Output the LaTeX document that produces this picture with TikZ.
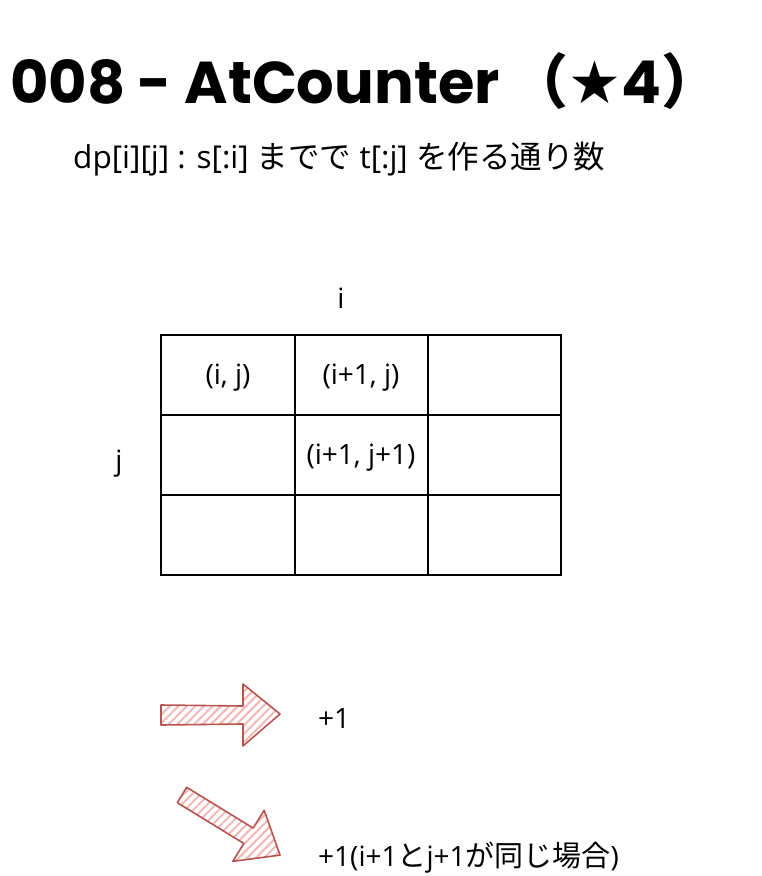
\documentclass[tikz,border=0pt]{standalone}
\usepackage{fontspec}
\setmainfont{Open Sans}
\newfontfamily\titlefont{Poppins}
\newfontfamily\jpfont{Noto Sans CJK JP}
\newfontfamily\symfont{DejaVu Sans}
\usetikzlibrary{patterns.meta}
\definecolor{arrowline}{HTML}{B85450}
\definecolor{arrowfill}{HTML}{F2B8B6}
\tikzset{
  lbl/.style={inner sep=0pt, font=\fontsize{28}{32}\selectfont},
  gridline/.style={line width=1.3pt, black},
  fatarrow/.style={draw=arrowline, line width=1.6pt, line join=round,
    pattern={Lines[angle=45,distance=6pt,line width=2pt]}, pattern color=arrowfill}
}
\begin{document}
\begin{tikzpicture}[x=1pt,y=-1pt]
\useasboundingbox (0,0) rectangle (762,876);
% title
\node[anchor=base west, inner sep=0pt, font=\titlefont\bfseries\fontsize{59}{64}\selectfont] (title) at (10,103)
  {008 - AtCounter\hspace{10pt}{\jpfont（}{\symfont ★}4{\jpfont ）}};
\node[anchor=base west, inner sep=0pt, font=\fontsize{31.5}{36}\selectfont] (sub) at (73,168)
  {dp[i][j] : s[:i] {\jpfont までで} t[:j] {\jpfont を作る通り数}};
% grid
\coordinate (g00) at (161,335);
\coordinate (g33) at (561,575);
\draw[gridline] (g00) rectangle (g33);
\draw[gridline] (295,335) coordinate (c1t) -- (295,575) coordinate (c1b);
\draw[gridline] (428,335) coordinate (c2t) -- (428,575) coordinate (c2b);
\draw[gridline] (161,415) coordinate (r1l) -- (561,415) coordinate (r1r);
\draw[gridline] (161,495) coordinate (r2l) -- (561,495) coordinate (r2r);
\node[lbl] (cij) at (228,378) {(i, j)};
\node[lbl] (ci1j) at (361,378) {(i+1, j)};
\node[lbl] (ci1j1) at (361,458) {(i+1, j+1)};
\node[lbl] (ilab) at (341,298) {i};
\node[lbl] (jlab) at (119,464) {j};
% arrows
\draw[fatarrow] (161,705) -- (243,706) -- (243,684) -- (280,714) -- (243,746) -- (243,724) -- (161,725) -- cycle;
\begin{scope}[shift={(182,795)}, rotate=-31.5]
\draw[fatarrow] (0,-9) -- (78,-9) -- (78,-30) -- (115,0) -- (78,30) -- (78,9) -- (0,9) -- cycle;
\end{scope}
\node[lbl, anchor=west] (plus1) at (318,718) {+1};
\node[lbl, anchor=west] (plus2) at (318,858) {+1(i+1{\jpfont\fontsize{29}{32}\selectfont と}j+1{\jpfont\fontsize{29}{32}\selectfont が同じ場合})};
\end{tikzpicture}
\end{document}
